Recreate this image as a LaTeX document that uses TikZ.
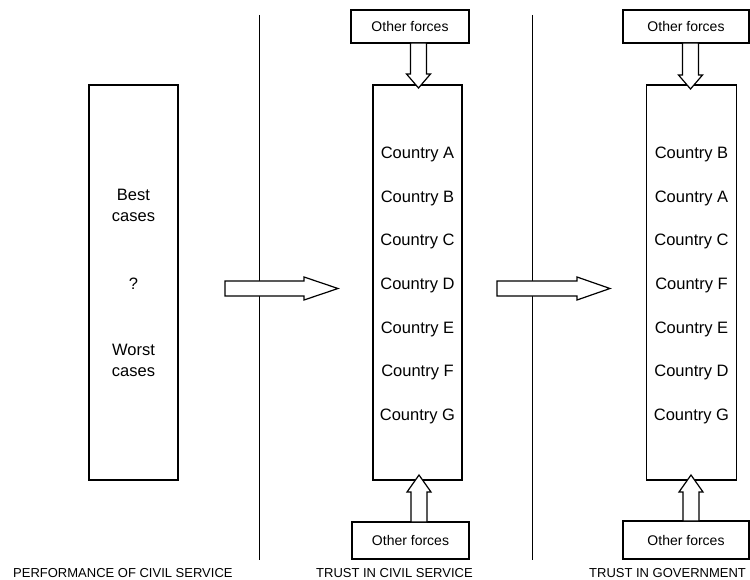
\documentclass[tikz,border=0pt]{standalone}
\usepackage{fontspec}
\setmainfont{Liberation Sans}
\begin{document}
\begin{tikzpicture}[x=1pt,y=-1pt,
  bigbox/.style={draw, line width=1.2pt, minimum width=89pt, minimum height=395pt, inner sep=0pt},
  forcebox/.style={draw, line width=1.2pt, inner sep=0pt, font=\fontsize{14}{16}\selectfont},
  ctext/.style={anchor=base, font=\fontsize{16.5}{19}\selectfont, inner sep=0pt},
  lbltext/.style={anchor=base west, font=\fontsize{13}{15}\selectfont, inner sep=0pt},
  blockarrow/.style={draw, fill=white, line width=1.2pt, line join=miter},
  sepline/.style={line width=0.9pt}]
\useasboundingbox (0,0) rectangle (750,580);
\fill[white] (0,0) rectangle (750,580);

% separator lines
\coordinate (s1t) at (259.5,15); \coordinate (s1b) at (259.5,560);
\coordinate (s2t) at (532.5,15); \coordinate (s2b) at (532.5,560);
\draw[sepline] (s1t) -- (s1b);
\draw[sepline] (s2t) -- (s2b);

% main boxes
\node[bigbox] (perf) at (133.5,282.5) {};
\node[bigbox] (civ) at (417.5,282.5) {};
\node[bigbox, minimum width=90pt] (gov) at (691.5,282.5) {};

% left box text
\node[align=center, font=\fontsize{16.5}{21}\selectfont, inner sep=0pt] (best) at (133.5,205) {Best\\cases};
\node[font=\fontsize{16.5}{21}\selectfont, inner sep=0pt] (q) at (133.5,284) {?};
\node[align=center, font=\fontsize{16.5}{21}\selectfont, inner sep=0pt] (worst) at (133.5,360) {Worst\\cases};

% country lists
\foreach \t [count=\i] in {A,B,C,D,E,F,G}
  \node[ctext] (cA\i) at (417.5,{159+43.5*(\i-1)}) {Country \t};
\foreach \t [count=\i] in {B,A,C,F,E,D,G}
  \node[ctext] (cB\i) at (691.5,{159+43.5*(\i-1)}) {Country \t};

% other forces boxes
\node[forcebox, minimum width=118pt, minimum height=33pt] (of1) at (410,26.5) {Other forces};
\node[forcebox, minimum width=117pt, minimum height=37pt] (of2) at (410.5,540.5) {Other forces};
\node[forcebox, minimum width=126pt, minimum height=33pt] (of3) at (686,26.5) {Other forces};
\node[forcebox, minimum width=126pt, minimum height=38pt] (of4) at (686,540) {Other forces};

% horizontal block arrows
\draw[blockarrow] (225,281) -- (304,281) -- (304,277) -- (338,288.5) -- (304,300) -- (304,296) -- (225,296) -- cycle;
\draw[blockarrow] (497,281) -- (577,281) -- (577,277) -- (610,288.5) -- (577,300) -- (577,296) -- (497,296) -- cycle;

% vertical block arrows (down)
\draw[blockarrow] (410.5,43) -- (426.5,43) -- (426.5,74) -- (430.5,74) -- (418.5,88) -- (406.5,74) -- (410.5,74) -- cycle;
\draw[blockarrow] (682.5,43) -- (698.5,43) -- (698.5,75) -- (702.5,75) -- (690.5,89) -- (678.5,75) -- (682.5,75) -- cycle;
% vertical block arrows (up)
\draw[blockarrow] (411,522) -- (427,522) -- (427,492) -- (431,492) -- (419,475) -- (407,492) -- (411,492) -- cycle;
\draw[blockarrow] (683,521) -- (699,521) -- (699,492) -- (703,492) -- (691,475) -- (679,492) -- (683,492) -- cycle;

% bottom labels
\node[lbltext] (l1) at (13,577) {PERFORMANCE OF CIVIL SERVICE};
\node[lbltext] (l2) at (316,577) {TRUST IN CIVIL SERVICE};
\node[lbltext] (l3) at (589,577) {TRUST IN GOVERNMENT};
\end{tikzpicture}
\end{document}
